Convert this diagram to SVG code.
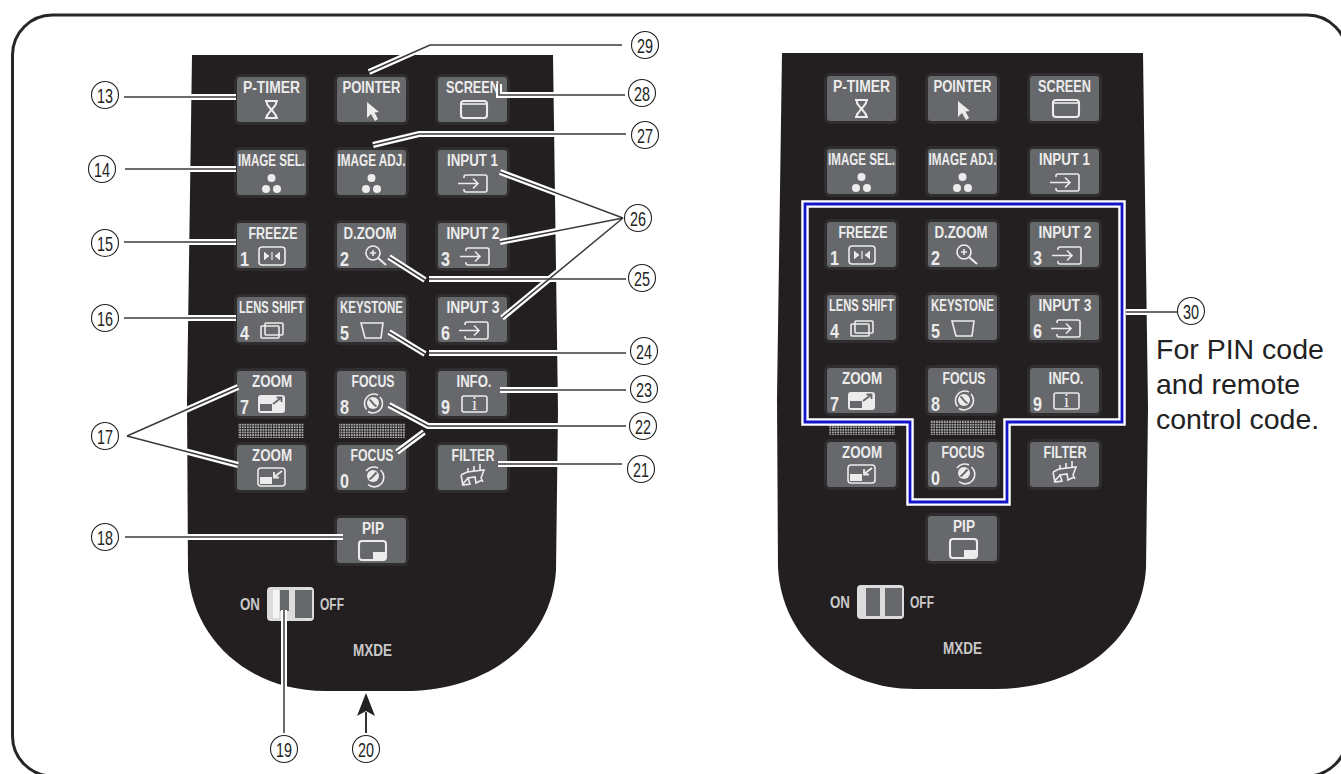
<svg xmlns="http://www.w3.org/2000/svg" xmlns:xlink="http://www.w3.org/1999/xlink" width="1341" height="774" viewBox="0 0 1341 774">
<style>
.body{fill:#231f20}
.bh{fill:#2f2d2e}
.bf{fill:#67686b}
.l{font-family:"Liberation Sans",Arial,sans-serif;font-weight:bold;font-size:16px;fill:#ececec;text-anchor:middle}
.d{font-family:"Liberation Sans",Arial,sans-serif;font-weight:bold;font-size:20px;fill:#ececec}
.s{font-family:"Liberation Sans",Arial,sans-serif;font-weight:bold;font-size:16px;fill:#c9c9c9}
.ii{font-family:"Liberation Serif",serif;font-size:18px;fill:#ececec;text-anchor:middle}
.ic{fill:none;stroke:#ececec;stroke-width:1.6}
.t2{stroke-width:2.1}
.if{fill:#ececec}
.ig{fill:#67686b}
.halo{fill:none;stroke:#fff;stroke-width:6}
.core{fill:none;stroke:#3a3a3a;stroke-width:1.5}
.num circle{fill:#fff;stroke:#222;stroke-width:1.1}
.num text{font-family:"Liberation Sans",Arial,sans-serif;font-size:21px;fill:#222;text-anchor:middle}
.cap{font-family:"Liberation Sans",Arial,sans-serif;font-size:28.500px;fill:#222}
</style>
<defs>
<pattern id="dots" width="2.6" height="2.6" patternUnits="userSpaceOnUse"><rect width="2.6" height="2.6" fill="#231f20"/><rect width="1.8" height="1.8" fill="#a9a9a9"/></pattern>
<g id="btn"><rect class="bh" x="-3" y="-3" width="75" height="51" rx="6"/><rect class="bf" width="69" height="45" rx="3"/></g>
<g id="i-hour"><path class="ic t2" d="M28 24H41M28 41H41M29.500 24C29.500 30 34 30 34 33C34 35 29.500 36 29.500 41M39.500 24C39.500 30 35 30 35 33C35 35 39.500 36 39.500 41"/></g>
<path id="i-arrow" class="if" d="M30 25V41L34 37L38 44L41 42L37.500 35.500L42 35Z"/>
<g id="i-screen"><rect class="ic t2" x="23" y="24" width="26" height="17" rx="3"/><path class="ic" d="M24 27H48"/></g>
<g id="i-dots"><circle class="if" cx="34.500" cy="28" r="4"/><circle class="if" cx="29" cy="39" r="4"/><circle class="if" cx="40" cy="39" r="4"/></g>
<g id="i-input"><path class="ic" d="M26 28V27Q26 25 28 25H47Q49 25 49 27V40Q49 42 47 42H28Q26 42 26 40V39M20 33.500H40M35 28.500L40 33.500L35 38.500"/></g>
<g id="i-freeze"><rect class="ic" x="22" y="24" width="26" height="18" rx="3"/><path class="if" d="M28 29.500V36.500L32.500 33ZM42 29.500V36.500L37.500 33ZM27 29H28V37H27ZM42 29H43V37H42ZM34.400 29H35.600V37H34.400Z"/></g>
<g id="i-mag"><circle class="ic" cx="36" cy="30" r="7"/><path class="ic" d="M33 30H39M36 27V33"/><path class="ic t2" d="M41 35L49 42"/></g>
<g id="i-lens"><rect class="ic" x="28" y="26" width="18" height="12" rx="1"/><rect class="ic" x="24" y="29" width="18" height="12" rx="1"/></g>
<path id="i-key" class="ic" d="M24 26H46L44 41H28Z"/>
<g id="i-zin"><rect class="if" x="21" y="24" width="27" height="18" rx="3"/><rect class="ig" x="23" y="33" width="12" height="7"/><path d="M36 33L44 27M39.500 26.500H44.500V31" fill="none" stroke="#67686b" stroke-width="1.800"/></g>
<g id="i-zout"><rect class="ic" x="21" y="23" width="27" height="18" rx="3"/><rect class="if" x="23" y="32" width="12" height="7"/><path d="M45 26L37 32M37 27V32.500H42" fill="none" stroke="#ececec" stroke-width="1.800"/></g>
<g id="i-pip"><rect class="ic t2" x="22" y="23" width="27" height="19" rx="3"/><rect class="if" x="36" y="34" width="13" height="8"/></g>
<g id="i-f8"><path class="ic" d="M29.500 38.500A9.500 9.500 0 0 1 41 24M43 26A9.500 9.500 0 0 1 31 40.500"/><circle class="if" cx="36" cy="32" r="6"/><path d="M32.500 28.500C35 30 35 33 39.500 35.500" fill="none" stroke="#67686b" stroke-width="2"/></g>
<g id="i-f0"><path class="ic" d="M29 26A9.500 9.500 0 0 1 41 23M43.500 25A9.500 9.500 0 0 1 31 39.500"/><circle class="if" cx="36" cy="31" r="6"/><path d="M39.500 27.500C37 30 36 32 32.500 34.500" fill="none" stroke="#67686b" stroke-width="2"/></g>
<rect id="i-info" class="ic" x="24" y="25" width="25" height="16" rx="2"/>
<g id="i-filter"><path class="ic" d="M23 30L29 27L46 25L43 33L45 37M30 23V28M36 21V27M42 19V26M23 30L25 40L32 39L30 33L37 32L38 38L44 35M30 33L24 40"/></g>
</defs>
<rect id="frame" x="12.500" y="15" width="1334.500" height="761" rx="40" fill="#fff" stroke="#262626" stroke-width="3"/>

<g id="left-remote">
<path class="body" d="M192 55H553L558 410L556 570C552 640 490 691 405 691H325C250 691 192 640 188 570L187 400Z"/>
<rect x="238" y="423" width="66" height="15" fill="url(#dots)"/>
<rect x="339" y="423" width="66" height="15" fill="url(#dots)"/>
<g id="l-ptimer" transform="translate(237 77)"><use href="#btn"/><text class="l" x="34.500" y="15.500" textLength="57" lengthAdjust="spacingAndGlyphs">P-TIMER</text><use href="#i-hour"/></g>
<g id="l-pointer" transform="translate(337 77)"><use href="#btn"/><text class="l" x="34.500" y="15.500" textLength="58" lengthAdjust="spacingAndGlyphs">POINTER</text><use href="#i-arrow"/></g>
<g id="l-screen" transform="translate(438 77)"><use href="#btn"/><text class="l" x="34.500" y="15.500" textLength="53" lengthAdjust="spacingAndGlyphs">SCREEN</text><use href="#i-screen"/></g>
<g id="l-imagesel" transform="translate(237 150)"><use href="#btn"/><text class="l" x="34.500" y="15.500" textLength="67" lengthAdjust="spacingAndGlyphs">IMAGE SEL.</text><use href="#i-dots"/></g>
<g id="l-imageadj" transform="translate(337 150)"><use href="#btn"/><text class="l" x="34.500" y="15.500" textLength="68" lengthAdjust="spacingAndGlyphs">IMAGE ADJ.</text><use href="#i-dots"/></g>
<g id="l-input1" transform="translate(438 150)"><use href="#btn"/><text class="l" x="34.500" y="15.500" textLength="51" lengthAdjust="spacingAndGlyphs">INPUT 1</text><use href="#i-input"/></g>
<g id="l-freeze" transform="translate(237 223)"><use href="#btn"/><text class="l" x="36" y="15.500" textLength="49" lengthAdjust="spacingAndGlyphs">FREEZE</text><text class="d" x="3" y="43" textLength="9" lengthAdjust="spacingAndGlyphs">1</text><use href="#i-freeze"/></g>
<g id="l-dzoom" transform="translate(337 223)"><use href="#btn"/><text class="l" x="33" y="15.500" textLength="53" lengthAdjust="spacingAndGlyphs">D.ZOOM</text><text class="d" x="3" y="43" textLength="9" lengthAdjust="spacingAndGlyphs">2</text><use href="#i-mag"/></g>
<g id="l-input2" transform="translate(438 223)"><use href="#btn"/><text class="l" x="35" y="15.500" textLength="53" lengthAdjust="spacingAndGlyphs">INPUT 2</text><text class="d" x="3" y="43" textLength="9" lengthAdjust="spacingAndGlyphs">3</text><use href="#i-input" x="2"/></g>
<g id="l-lensshift" transform="translate(237 297)"><use href="#btn"/><text class="l" x="34.500" y="15.500" textLength="65" lengthAdjust="spacingAndGlyphs">LENS SHIFT</text><text class="d" x="3" y="43" textLength="9" lengthAdjust="spacingAndGlyphs">4</text><use href="#i-lens"/></g>
<g id="l-keystone" transform="translate(337 297)"><use href="#btn"/><text class="l" x="34.500" y="15.500" textLength="63" lengthAdjust="spacingAndGlyphs">KEYSTONE</text><text class="d" x="3" y="43" textLength="9" lengthAdjust="spacingAndGlyphs">5</text><use href="#i-key"/></g>
<g id="l-input3" transform="translate(438 297)"><use href="#btn"/><text class="l" x="35" y="15.500" textLength="53" lengthAdjust="spacingAndGlyphs">INPUT 3</text><text class="d" x="3" y="43" textLength="9" lengthAdjust="spacingAndGlyphs">6</text><use href="#i-input" x="1"/></g>
<g id="l-zoom7" transform="translate(237 371)"><use href="#btn"/><text class="l" x="35" y="15.500" textLength="40" lengthAdjust="spacingAndGlyphs">ZOOM</text><text class="d" x="3" y="43" textLength="9" lengthAdjust="spacingAndGlyphs">7</text><use href="#i-zin"/></g>
<g id="l-focus8" transform="translate(337 371)"><use href="#btn"/><text class="l" x="36" y="15.500" textLength="43" lengthAdjust="spacingAndGlyphs">FOCUS</text><text class="d" x="3" y="43" textLength="9" lengthAdjust="spacingAndGlyphs">8</text><use href="#i-f8"/></g>
<g id="l-info" transform="translate(438 371)"><use href="#btn"/><text class="l" x="36" y="15.500" textLength="35" lengthAdjust="spacingAndGlyphs">INFO.</text><text class="d" x="3" y="43" textLength="9" lengthAdjust="spacingAndGlyphs">9</text><use href="#i-info"/><text class="ii" x="36.500" y="39">i</text></g>
<g id="l-zoomout" transform="translate(237 445)"><use href="#btn"/><text class="l" x="35" y="15.500" textLength="40" lengthAdjust="spacingAndGlyphs">ZOOM</text><use href="#i-zout"/></g>
<g id="l-focus0" transform="translate(337 445)"><use href="#btn"/><text class="l" x="35" y="15.500" textLength="43" lengthAdjust="spacingAndGlyphs">FOCUS</text><text class="d" x="3" y="43" textLength="9" lengthAdjust="spacingAndGlyphs">0</text><use href="#i-f0"/></g>
<g id="l-filter" transform="translate(438 445)"><use href="#btn"/><text class="l" x="35" y="15.500" textLength="43" lengthAdjust="spacingAndGlyphs">FILTER</text><use href="#i-filter"/></g>
<g id="l-pip" transform="translate(337 518)"><use href="#btn"/><text class="l" x="36" y="15.500" textLength="22" lengthAdjust="spacingAndGlyphs">PIP</text><use href="#i-pip"/></g>
<g id="l-switch"><rect x="267" y="587" width="47" height="34" rx="4" fill="#dcdcdc"/><rect x="273" y="590" width="6" height="28" fill="#f4f4f4"/><rect x="280" y="590" width="9" height="21" fill="#67686b"/><rect x="295" y="590" width="17" height="28" fill="#67686b"/><text class="s" x="240" y="610" textLength="20" lengthAdjust="spacingAndGlyphs">ON</text><text class="s" x="320" y="610" textLength="24" lengthAdjust="spacingAndGlyphs">OFF</text></g>
<text id="l-model" class="s" x="353" y="656" textLength="39" lengthAdjust="spacingAndGlyphs">MXDE</text>
</g>

<g id="right-remote">
<path class="body" d="M782 53H1143L1148 408L1146 568C1142 638 1080 689 995 689H915C840 689 782 638 778 568L777 398Z"/>
<rect x="829" y="420" width="66" height="15" fill="url(#dots)"/>
<rect x="930" y="420" width="66" height="15" fill="url(#dots)"/>
<g id="r-ptimer" transform="translate(827 76)"><use href="#btn"/><text class="l" x="34.500" y="15.500" textLength="57" lengthAdjust="spacingAndGlyphs">P-TIMER</text><use href="#i-hour"/></g>
<g id="r-pointer" transform="translate(928 76)"><use href="#btn"/><text class="l" x="34.500" y="15.500" textLength="58" lengthAdjust="spacingAndGlyphs">POINTER</text><use href="#i-arrow"/></g>
<g id="r-screen" transform="translate(1030 76)"><use href="#btn"/><text class="l" x="34.500" y="15.500" textLength="53" lengthAdjust="spacingAndGlyphs">SCREEN</text><use href="#i-screen"/></g>
<g id="r-imagesel" transform="translate(827 149)"><use href="#btn"/><text class="l" x="34.500" y="15.500" textLength="67" lengthAdjust="spacingAndGlyphs">IMAGE SEL.</text><use href="#i-dots"/></g>
<g id="r-imageadj" transform="translate(928 149)"><use href="#btn"/><text class="l" x="34.500" y="15.500" textLength="68" lengthAdjust="spacingAndGlyphs">IMAGE ADJ.</text><use href="#i-dots"/></g>
<g id="r-input1" transform="translate(1030 149)"><use href="#btn"/><text class="l" x="34.500" y="15.500" textLength="51" lengthAdjust="spacingAndGlyphs">INPUT 1</text><use href="#i-input"/></g>
<g id="r-freeze" transform="translate(827 222)"><use href="#btn"/><text class="l" x="36" y="15.500" textLength="49" lengthAdjust="spacingAndGlyphs">FREEZE</text><text class="d" x="3" y="43" textLength="9" lengthAdjust="spacingAndGlyphs">1</text><use href="#i-freeze"/></g>
<g id="r-dzoom" transform="translate(928 222)"><use href="#btn"/><text class="l" x="33" y="15.500" textLength="53" lengthAdjust="spacingAndGlyphs">D.ZOOM</text><text class="d" x="3" y="43" textLength="9" lengthAdjust="spacingAndGlyphs">2</text><use href="#i-mag"/></g>
<g id="r-input2" transform="translate(1030 222)"><use href="#btn"/><text class="l" x="35" y="15.500" textLength="53" lengthAdjust="spacingAndGlyphs">INPUT 2</text><text class="d" x="3" y="43" textLength="9" lengthAdjust="spacingAndGlyphs">3</text><use href="#i-input" x="2"/></g>
<g id="r-lensshift" transform="translate(827 295)"><use href="#btn"/><text class="l" x="34.500" y="15.500" textLength="65" lengthAdjust="spacingAndGlyphs">LENS SHIFT</text><text class="d" x="3" y="43" textLength="9" lengthAdjust="spacingAndGlyphs">4</text><use href="#i-lens"/></g>
<g id="r-keystone" transform="translate(928 295)"><use href="#btn"/><text class="l" x="34.500" y="15.500" textLength="63" lengthAdjust="spacingAndGlyphs">KEYSTONE</text><text class="d" x="3" y="43" textLength="9" lengthAdjust="spacingAndGlyphs">5</text><use href="#i-key"/></g>
<g id="r-input3" transform="translate(1030 295)"><use href="#btn"/><text class="l" x="35" y="15.500" textLength="53" lengthAdjust="spacingAndGlyphs">INPUT 3</text><text class="d" x="3" y="43" textLength="9" lengthAdjust="spacingAndGlyphs">6</text><use href="#i-input" x="1"/></g>
<g id="r-zoom7" transform="translate(827 368)"><use href="#btn"/><text class="l" x="35" y="15.500" textLength="40" lengthAdjust="spacingAndGlyphs">ZOOM</text><text class="d" x="3" y="43" textLength="9" lengthAdjust="spacingAndGlyphs">7</text><use href="#i-zin"/></g>
<g id="r-focus8" transform="translate(928 368)"><use href="#btn"/><text class="l" x="36" y="15.500" textLength="43" lengthAdjust="spacingAndGlyphs">FOCUS</text><text class="d" x="3" y="43" textLength="9" lengthAdjust="spacingAndGlyphs">8</text><use href="#i-f8"/></g>
<g id="r-info" transform="translate(1030 368)"><use href="#btn"/><text class="l" x="36" y="15.500" textLength="35" lengthAdjust="spacingAndGlyphs">INFO.</text><text class="d" x="3" y="43" textLength="9" lengthAdjust="spacingAndGlyphs">9</text><use href="#i-info"/><text class="ii" x="36.500" y="39">i</text></g>
<g id="r-zoomout" transform="translate(827 442)"><use href="#btn"/><text class="l" x="35" y="15.500" textLength="40" lengthAdjust="spacingAndGlyphs">ZOOM</text><use href="#i-zout"/></g>
<g id="r-focus0" transform="translate(928 442)"><use href="#btn"/><text class="l" x="35" y="15.500" textLength="43" lengthAdjust="spacingAndGlyphs">FOCUS</text><text class="d" x="3" y="43" textLength="9" lengthAdjust="spacingAndGlyphs">0</text><use href="#i-f0"/></g>
<g id="r-filter" transform="translate(1030 442)"><use href="#btn"/><text class="l" x="35" y="15.500" textLength="43" lengthAdjust="spacingAndGlyphs">FILTER</text><use href="#i-filter"/></g>
<g id="r-pip" transform="translate(928 516)"><use href="#btn"/><text class="l" x="36" y="15.500" textLength="22" lengthAdjust="spacingAndGlyphs">PIP</text><use href="#i-pip"/></g>
<g id="r-switch"><rect x="857" y="585" width="47" height="34" rx="4" fill="#dcdcdc"/><rect x="866" y="588" width="14" height="28" fill="#67686b"/><rect x="885" y="588" width="17" height="28" fill="#67686b"/><text class="s" x="830" y="608" textLength="20" lengthAdjust="spacingAndGlyphs">ON</text><text class="s" x="910" y="608" textLength="24" lengthAdjust="spacingAndGlyphs">OFF</text></g>
<text id="r-model" class="s" x="943" y="654" textLength="39" lengthAdjust="spacingAndGlyphs">MXDE</text>
</g>

<g id="pin-outline" fill="none" stroke-linejoin="miter">
<path stroke="#fff" stroke-width="7.500" d="M805 204H1122V422H1007V502H910V422H805Z"/>
<path stroke="#1414c8" stroke-width="2.800" d="M805 204H1122V422H1007V502H910V422H805Z"/>
</g>

<g id="connectors">
<g class="halo">
<path d="M124 97H236"/><path d="M125 169H236"/><path d="M124 242H236"/><path d="M124 318H236"/>
<path d="M127 436L238 387"/><path d="M127 436L238 465"/><path d="M125 537H343"/><path d="M284 733V610"/>
<path d="M622 45H430L369 72"/><path d="M625 95H499V84"/><path d="M626 134H419L373 145"/>
<path d="M623 218L500 172"/><path d="M623 218L500 242"/><path d="M623 218L502 318"/>
<path d="M626 279H429"/><path d="M425 280L389 257"/><path d="M626 353H429"/><path d="M425 354L389 332"/>
<path d="M626 390H500"/><path d="M626 426H428L389 405"/><path d="M424 432L397 452"/><path d="M622 464H498"/>
<path d="M1126 312H1177"/>
</g>
<g class="core">
<path d="M124 97H236"/><path d="M125 169H236"/><path d="M124 242H236"/><path d="M124 318H236"/>
<path d="M127 436L238 387"/><path d="M127 436L238 465"/><path d="M125 537H343"/><path d="M284 733V610"/>
<path d="M622 45H430L369 72"/><path d="M625 95H499V84"/><path d="M626 134H419L373 145"/>
<path d="M623 218L500 172"/><path d="M623 218L500 242"/><path d="M623 218L502 318"/>
<path d="M626 279H429"/><path d="M425 280L389 257"/><path d="M626 353H429"/><path d="M425 354L389 332"/>
<path d="M626 390H500"/><path d="M626 426H428L389 405"/><path d="M424 432L397 452"/><path d="M622 464H498"/>
<path d="M1126 312H1178"/>
</g>
<path id="arrow-20" d="M366 733V712" fill="none" stroke="#333" stroke-width="2"/>
<path d="M366 693L375 716L366 711L357 716Z" fill="#222"/>
</g>

<g id="n13" class="num"><circle cx="105" cy="95" r="13.500"/><text x="105" y="102.500" textLength="16" lengthAdjust="spacingAndGlyphs">13</text></g>
<g id="n14" class="num"><circle cx="102" cy="169" r="13.500"/><text x="102" y="176.500" textLength="16" lengthAdjust="spacingAndGlyphs">14</text></g>
<g id="n15" class="num"><circle cx="105" cy="243" r="13.500"/><text x="105" y="250.500" textLength="16" lengthAdjust="spacingAndGlyphs">15</text></g>
<g id="n16" class="num"><circle cx="105" cy="318" r="13.500"/><text x="105" y="325.500" textLength="16" lengthAdjust="spacingAndGlyphs">16</text></g>
<g id="n17" class="num"><circle cx="105" cy="436" r="13.500"/><text x="105" y="443.500" textLength="16" lengthAdjust="spacingAndGlyphs">17</text></g>
<g id="n18" class="num"><circle cx="105" cy="537" r="13.500"/><text x="105" y="544.500" textLength="16" lengthAdjust="spacingAndGlyphs">18</text></g>
<g id="n19" class="num"><circle cx="284" cy="749" r="13.500"/><text x="284" y="756.500" textLength="16" lengthAdjust="spacingAndGlyphs">19</text></g>
<g id="n20" class="num"><circle cx="366" cy="749" r="13.500"/><text x="366" y="756.500" textLength="16" lengthAdjust="spacingAndGlyphs">20</text></g>
<g id="n21" class="num"><circle cx="641" cy="469" r="13.500"/><text x="641" y="476.500" textLength="16" lengthAdjust="spacingAndGlyphs">21</text></g>
<g id="n22" class="num"><circle cx="643" cy="426" r="13.500"/><text x="643" y="433.500" textLength="16" lengthAdjust="spacingAndGlyphs">22</text></g>
<g id="n23" class="num"><circle cx="644" cy="389" r="13.500"/><text x="644" y="396.500" textLength="16" lengthAdjust="spacingAndGlyphs">23</text></g>
<g id="n24" class="num"><circle cx="644" cy="351" r="13.500"/><text x="644" y="358.500" textLength="16" lengthAdjust="spacingAndGlyphs">24</text></g>
<g id="n25" class="num"><circle cx="642" cy="278" r="13.500"/><text x="642" y="285.500" textLength="16" lengthAdjust="spacingAndGlyphs">25</text></g>
<g id="n26" class="num"><circle cx="638" cy="218" r="13.500"/><text x="638" y="225.500" textLength="16" lengthAdjust="spacingAndGlyphs">26</text></g>
<g id="n27" class="num"><circle cx="645" cy="135" r="13.500"/><text x="645" y="142.500" textLength="16" lengthAdjust="spacingAndGlyphs">27</text></g>
<g id="n28" class="num"><circle cx="642" cy="93" r="13.500"/><text x="642" y="100.500" textLength="16" lengthAdjust="spacingAndGlyphs">28</text></g>
<g id="n29" class="num"><circle cx="645" cy="45" r="13.500"/><text x="645" y="52.500" textLength="16" lengthAdjust="spacingAndGlyphs">29</text></g>
<g id="n30" class="num"><circle cx="1191" cy="311" r="13.500"/><text x="1191" y="318.500" textLength="16" lengthAdjust="spacingAndGlyphs">30</text></g>
<g id="caption"><text class="cap" x="1156" y="359">For PIN code</text><text class="cap" x="1156" y="394">and remote</text><text class="cap" x="1156" y="429">control code.</text></g>
</svg>
